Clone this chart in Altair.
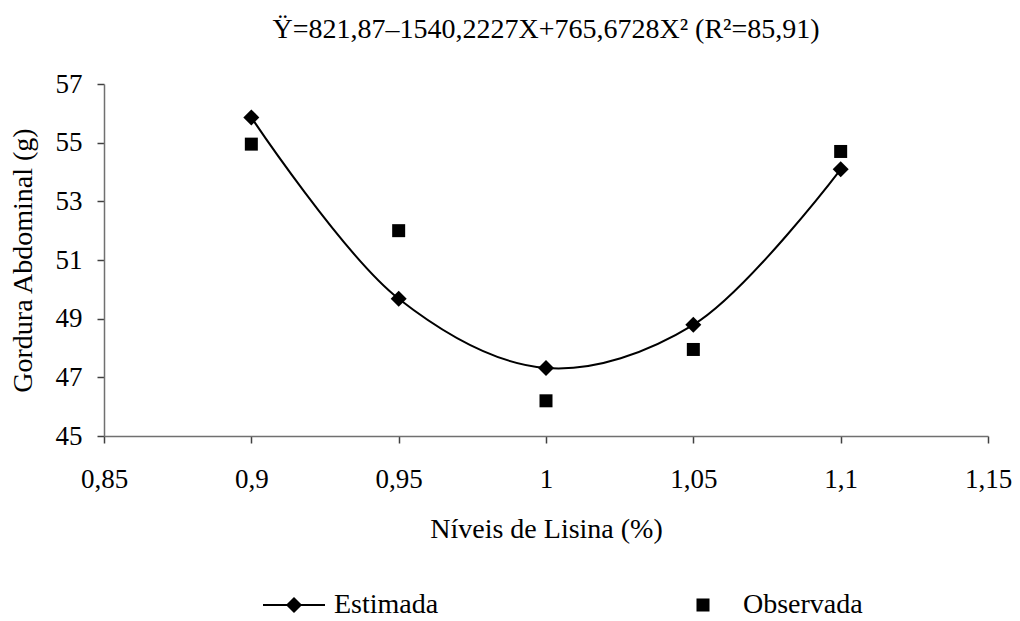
import altair as alt
import pandas as pd

# data
niveis = [0.9, 0.95, 1.0, 1.05, 1.1]
estimada = [55.86, 49.68, 47.32, 48.79, 54.09]
observada = [54.95, 52.0, 46.2, 47.95, 54.7]
series_names = ["Estimada", "Observada"]
x_ticks = [0.85, 0.9, 0.95, 1.0, 1.05, 1.1, 1.15]
y_ticks = [45, 47, 49, 51, 53, 55, 57]

FONT = "Liberation Serif"

df_est = pd.DataFrame({"nivel": niveis, "valor": estimada})
df_obs = pd.DataFrame({"nivel": niveis, "valor": observada})
df_leg = pd.DataFrame({"serie": series_names, "nivel": [niveis[0]] * 2, "valor": [estimada[0], observada[0]]})

x_enc = alt.X(
    "nivel:Q",
    scale=alt.Scale(domain=[0.85, 1.15], nice=False, zero=False),
    axis=alt.Axis(
        values=x_ticks,
        labelExpr="replace(format(datum.value, '.2~f'), '.', ',')",
        title="Níveis de Lisina (%)",
        grid=False,
        tickSize=7,
        labelPadding=23,
        titlePadding=23,
        labelFlush=False,
    ),
)
y_enc = alt.Y(
    "valor:Q",
    scale=alt.Scale(domain=[45, 57], nice=False, zero=False),
    axis=alt.Axis(
        values=y_ticks,
        title="Gordura Abdominal (g)",
        grid=False,
        tickSize=7,
        labelPadding=15,
        titlePadding=18,
        labelFlush=False,
    ),
)

line = alt.Chart(df_est).mark_line(
    interpolate="catmull-rom", color="black", strokeWidth=2
).encode(x=x_enc, y=y_enc)

diamonds = alt.Chart(df_est).mark_point(
    shape="diamond", filled=True, color="black", size=256, opacity=1
).encode(x="nivel:Q", y="valor:Q")

squares = alt.Chart(df_obs).mark_point(
    shape="square", filled=True, color="black", size=169, opacity=1
).encode(x="nivel:Q", y="valor:Q")

# legend symbols: a thin bar with a diamond, and a square (filled paths)
path_est = "M-1,-0.032L1,-0.032L1,0.032L-1,0.032ZM0,-0.26L0.26,0L0,0.26L-0.26,0Z"
path_obs = "M-0.21,-0.21L0.21,-0.21L0.21,0.21L-0.21,0.21Z"

legend_layer = alt.Chart(df_leg).mark_point(
    filled=True, color="black", opacity=0
).encode(
    x="nivel:Q",
    y="valor:Q",
    shape=alt.Shape(
        "serie:N",
        scale=alt.Scale(domain=series_names, range=[path_est, path_obs]),
        legend=alt.Legend(
            title=None,
            orient="none",
            legendX=158,
            legendY=489,
            direction="horizontal",
            columns=2,
            columnPadding=232,
            symbolSize=3844,
            symbolFillColor="black",
            symbolOpacity=1,
            labelFont=FONT,
            labelFontSize=28,
            labelColor="black",
            labelOffset=8,
            padding=0,
        ),
    ),
)

chart = alt.layer(line, diamonds, squares, legend_layer).properties(
    width=884,
    height=352,
    title=alt.TitleParams(
        "Ÿ=821,87–1540,2227X+765,6728X² (R²=85,91)",
        font=FONT,
        fontSize=28,
        fontWeight="normal",
        color="black",
        offset=26,
    ),
    padding={"left": 96, "top": 76, "right": 24, "bottom": 184},
    autosize=alt.AutoSizeParams(type="none"),
).configure(font=FONT).configure_view(stroke=None).configure_axis(
    labelFont=FONT,
    labelFontSize=27,
    labelColor="black",
    titleFont=FONT,
    titleFontSize=28,
    titleFontWeight="normal",
    titleColor="black",
    domainColor="#707070",
    domainWidth=1.5,
    tickColor="#404040",
    tickWidth=1.5,
)

chart.save("out.html", embed_options={"renderer": "svg", "actions": False})
